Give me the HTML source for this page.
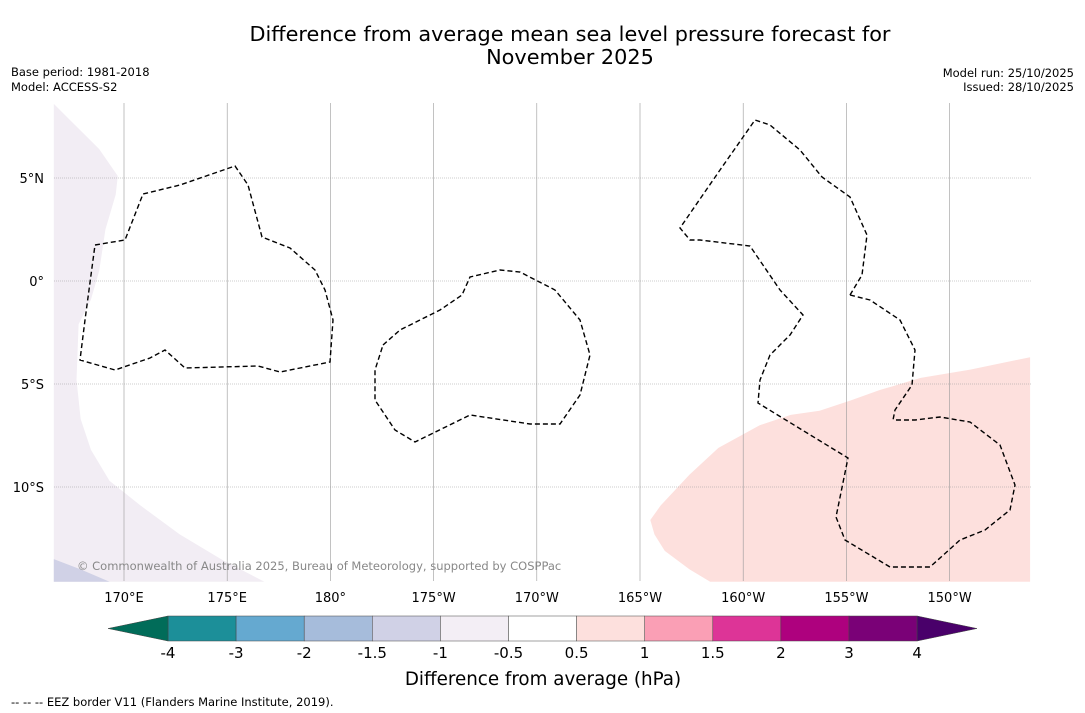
<!DOCTYPE html>
<html><head><meta charset="utf-8"><style>
body{margin:0;background:#fff;font-family:"DejaVu Sans","Liberation Sans",sans-serif;}
svg{display:block}
</style></head><body>
<svg id="c" width="1085" height="713">
<text x="570" y="41" font-size="20.8" text-anchor="middle">Difference from average mean sea level pressure forecast for</text>
<text x="570" y="64" font-size="20.8" text-anchor="middle">November 2025</text>
<text x="11" y="76" font-size="11.5">Base period: 1981-2018</text>
<text x="11" y="91" font-size="11.5">Model: ACCESS-S2</text>
<text x="1074" y="77" font-size="11.5" text-anchor="end">Model run: 25/10/2025</text>
<text x="1074" y="91" font-size="11.5" text-anchor="end">Issued: 28/10/2025</text>
<g id="map"></g>
<g id="cbar"></g>
<text x="543" y="685" font-size="18.3" text-anchor="middle">Difference from average (hPa)</text>
<text x="11" y="706" font-size="11.5">--  --  -- EEZ border V11 (Flanders Marine Institute, 2019).</text>
</svg>
<script>
const lonTicks=[170,175,180,185,190,195,200,205,210];
const lonLabels=["170°E","175°E","180°","175°W","170°W","165°W","160°W","155°W","150°W"];
const latTicks=[5,0,-5,-10];
const latLabels=["5°N","0°","5°S","10°S"];
const levels=["-4","-3","-2","-1.5","-1","-0.5","0.5","1","1.5","2","3","4"];
const binColors=["#1c8f99","#65a9d0","#a6bcdb","#d0d1e6","#f3eef5","#ffffff","#fde0dd","#fa9fb5","#dd3497","#ae017e","#7a0177"];
const lowColor="#016c59", highColor="#49006a";
const pinkRegion=[[195.5,-11.6],[196.0,-10.9],[197.4,-9.4],[198.8,-8.1],[200.8,-7.0],[202.3,-6.5],[203.7,-6.3],[205.2,-5.8],[206.6,-5.3],[208.6,-4.7],[211.0,-4.3],[213.9,-3.7],[213.9,-14.6],[198.4,-14.6],[197.4,-14.0],[196.2,-13.1],[195.7,-12.3]];
const purpleRegion=[[166.6,8.6],[167.4,7.8],[168.8,6.4],[169.7,5.1],[169.6,4.2],[169.1,2.5],[168.8,0.5],[168.4,-0.9],[167.8,-2.1],[167.7,-4.8],[167.9,-6.7],[168.4,-8.2],[169.3,-9.7],[170.8,-10.9],[172.7,-12.3],[174.7,-13.5],[176.8,-14.6],[166.6,-14.6]];
const blueRegion=[[166.6,-13.5],[167.9,-14.0],[169.3,-14.6],[166.6,-14.6]];
const NS="http://www.w3.org/2000/svg";
const X0=54,X1=1031,Y0=103,Y1=581;
const xs=lon=>124+(lon-170)*20.64;
const ys=lat=>281-lat*20.6;
function mk(t,a,p){const e=document.createElementNS(NS,t);for(const k in a)e.setAttribute(k,a[k]);p.appendChild(e);return e;}
const map=document.getElementById('map');
function poly(pts,fill,name){const e=mk('polygon',{points:pts.map(p=>xs(p[0])+','+ys(p[1])).join(' '),fill:fill},map);

}
poly(purpleRegion,"#f2edf4","anomaly-region-neg-0.5");
poly(blueRegion,"#d0d1e6","anomaly-region-neg-1.5");
poly(pinkRegion,"#fde0dd","anomaly-region-pos-0.5");
lonTicks.forEach((l,i)=>{const x=xs(l);
const g=mk('line',{x1:x,x2:x,y1:Y0,y2:Y1,stroke:"#999","stroke-width":0.6},map);


const t=mk('text',{x:x,y:602,"font-size":13,"text-anchor":"middle"},map);t.textContent=lonLabels[i];

});
latTicks.forEach((l,i)=>{const y=ys(l);
const g=mk('line',{x1:X0,x2:X1,y1:y,y2:y,stroke:"#999","stroke-width":0.6,"stroke-dasharray":"1,1"},map);


const t=mk('text',{x:44,y:y+5,"font-size":13,"text-anchor":"end"},map);t.textContent=latLabels[i];

});
const eez=["M95,245 L125,240 L143,194 L180,185 L235,166 L248,185 L262,237 L290,248 L315,270 L325,290 L333,320 L330,362 L280,372 L258,366 L185,368 L165,350 L150,358 L115,370 L80,360 L85,320 Z",
"M383,345 L400,330 L440,310 L462,295 L470,277 L500,270 L520,272 L555,290 L580,320 L590,355 L580,395 L560,424 L530,424 L470,415 L415,442 L395,430 L375,400 L375,370 Z",
"M850,295 L862,275 L867,235 L850,197 L822,177 L800,150 L770,125 L755,120 L720,170 L680,228 L690,240 L700,240 L750,246 L780,290 L803,315 L790,335 L770,355 L760,380 L758,403 L848,458 L836,517 L845,540 L890,567 L930,567 L960,540 L985,530 L1010,510 L1015,485 L1000,445 L970,422 L940,417 L915,420 L893,420",
"M850,295 L870,300 L900,320 L915,350 L912,385 L895,410 L893,420"];
eez.forEach(d=>{const e=mk('path',{d:d,fill:"none",stroke:"#000","stroke-width":1.4,"stroke-dasharray":"5,3"},map);

});
const cr=mk('text',{x:77,y:570,"font-size":11.5,fill:"#888"},map);cr.textContent="© Commonwealth of Australia 2025, Bureau of Meteorology, supported by COSPPac";


const cb=document.getElementById('cbar');
const CX0=168,CW=68.1,CY=616,CH=25;
binColors.forEach((c,i)=>{const r=mk('rect',{x:CX0+i*CW,y:CY,width:CW,height:CH,fill:c,stroke:"#444","stroke-width":0.5},cb);

});
const lt=mk('polygon',{points:`${CX0},${CY} 108,${CY+CH/2} ${CX0},${CY+CH}`,fill:lowColor,stroke:"#444","stroke-width":0.5},cb);


const hx=CX0+binColors.length*CW;
const ht=mk('polygon',{points:`${hx},${CY} 977,${CY+CH/2} ${hx},${CY+CH}`,fill:highColor,stroke:"#444","stroke-width":0.5},cb);


levels.forEach((l,i)=>{const t=mk('text',{x:CX0+i*CW,y:658,"font-size":15,"text-anchor":"middle"},cb);t.textContent=l;

});
</script>
</body></html>
